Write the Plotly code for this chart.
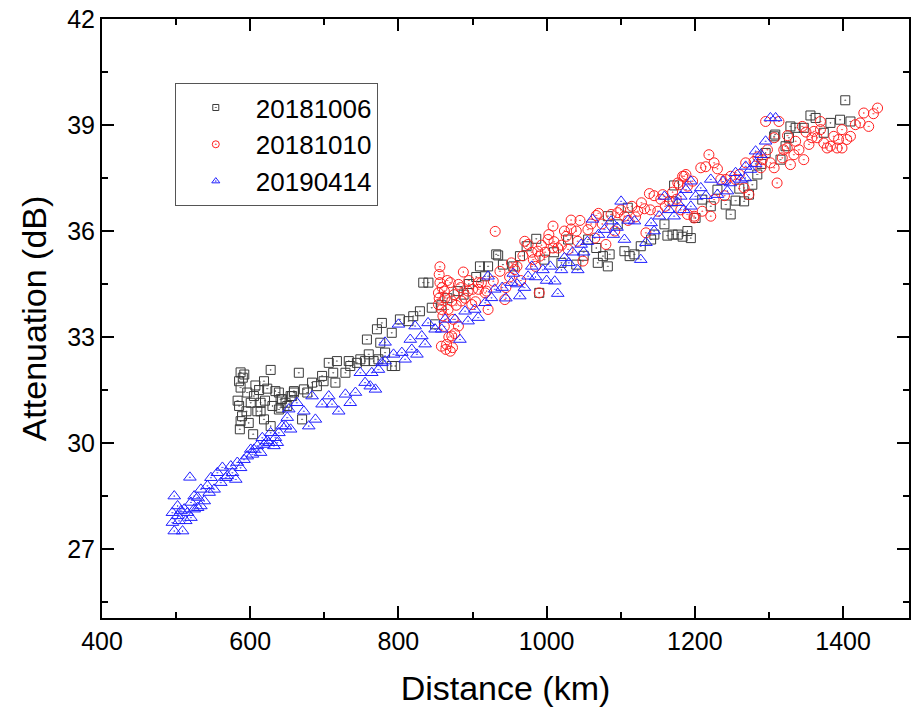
import plotly.graph_objects as go

# ---- 20181006 (black squares) ----
s1006_x = [587, 592, 585, 587, 596, 607, 618.6, 627.6, 623, 634, 605, 614, 600.7, 585, 589, 587, 598, 586, 604, 618.6,
           627.6, 614, 609.6, 643, 650, 641, 654.5, 659, 590, 583, 595, 620, 630, 612,
           638.7, 647.7, 656.6, 665.6, 672.4, 683.5, 697, 706, 717, 715, 728.5, 735, 748.6, 760, 757.5, 771, 775.5,
           777.7, 791, 795.7, 802, 813.6, 820, 829, 833.5, 840.5, 845, 849.5, 670, 641, 638.7, 659, 699, 744, 755,
           766.5, 773, 782, 791, 733, 712, 690, 677,
           858, 866, 880, 895, 905, 910, 921, 932, 916.7, 888,
           934.6, 941, 964, 973, 986, 997, 990, 1020, 1040, 1067, 1069, 1082.6, 1076, 1085, 1082.6, 1096, 1105, 1112,
           1118.5, 1109.5, 1127, 1141, 1145.4, 1159, 1163, 1170, 1177, 1183.5, 1190, 1194.6, 1172, 1170, 1029, 1056,
           955, 1010, 1050,
           1210, 1201, 1221.5, 1230.5, 1241.7, 1248.4, 1255, 1266.5, 1273, 1277.6, 1284.3, 1295.5, 1307, 1308.5,
           1322.4, 1327, 1329, 1336, 1347, 1356, 1363, 1374, 1383, 1396, 1403, 1410, 1315.6, 1290, 1260]
s1006_y = [32.0, 31.94, 31.75, 31.57, 31.43, 31.63, 31.75, 32.07, 31.54, 31.47, 31.33, 31.14, 31.14, 31.05, 30.76, 30.62,
           30.57, 30.39, 30.25, 30.67, 30.48, 30.9, 30.9, 31.24, 31.05, 31.0, 31.33, 31.43, 31.85, 31.2, 30.9, 31.2,
           31.05, 31.5,
           31.43, 31.14, 31.33, 31.99, 31.52, 31.71, 31.9, 32.27, 32.32, 31.71, 31.99, 32.18, 32.37, 32.51, 32.93,
           33.22, 32.84, 33.4, 33.12, 32.18, 33.5, 33.45, 33.59, 33.73, 34.54, 34.54, 33.83, 33.36, 30.67, 31.24,
           30.95, 31.47, 31.75, 32.27, 32.32, 32.32, 32.37, 32.56, 32.18, 32.32, 31.99, 31.61, 31.43,
           33.9, 34.1, 34.3, 34.5, 34.7, 35.0, 35.0, 35.34, 34.72, 34.2,
           35.31, 35.05, 35.29, 35.57, 35.78, 35.19, 34.25, 35.1, 35.05, 35.52, 35.1, 35.0, 35.29, 35.34, 36.42,
           36.19, 35.43, 35.29, 35.34, 36.66, 35.57, 35.76, 35.9, 36.19, 35.87, 35.9, 35.9, 35.84, 36.0, 35.8, 37.29,
           36.84, 35.76, 35.76, 35.0, 35.4, 35.3,
           36.89, 36.37, 36.7, 37.17, 36.75, 36.47, 36.86, 36.84, 37.03, 37.31, 37.6, 38.21, 38.68, 38.73,
           38.4, 38.64, 38.96, 38.92, 38.92, 39.27, 39.2, 38.78, 39.06, 39.15, 39.7, 39.1, 38.02, 37.9, 37.2]

# ---- 20181010 (red circles) ----
s1010_x = [855, 856, 856, 887.6, 870, 881, 894, 854, 863, 872, 854, 858.4, 867, 885, 899, 908, 917, 881, 872, 858,
           865, 870, 874, 908, 930.6, 862, 866, 875, 878, 884, 890, 895, 900, 904, 860, 862, 868, 876, 864, 873,
           855, 859,
           912, 919, 921, 928, 937, 943.6, 952.5, 957, 970.5, 975, 982, 988, 990.7, 990, 1002, 1008.6, 1008.6, 1015,
           1026.5, 1029, 1033, 1033, 1042, 1049, 1055.7, 1067, 1080, 1087, 1096, 1105, 1123, 1132, 1138.7, 1134,
           1150, 1154, 1156.6, 1165.6, 1177, 1179, 1183.5, 1188, 1199,
           945, 950, 960, 965, 968, 980, 985, 993, 998, 1003, 1010, 1020, 1024, 1040, 1045, 1060, 1065, 1070, 1075,
           1092, 1100, 1110, 1115, 1120, 1128, 1140, 1145, 1160, 1170, 1175,
           1185.7, 1190, 1197, 1181, 1190, 1199, 1210, 1221.5, 1226, 1208, 1214.7, 1219, 1226, 1230.5, 1235,
           1241.7, 1248.4, 1255, 1266.5, 1273, 1268.6, 1280, 1289, 1291, 1302, 1307, 1307, 1295.5, 1313.5, 1311,
           1318, 1320, 1324.7, 1329, 1333.7, 1336, 1340.5, 1345, 1347, 1354, 1358, 1360.6, 1365, 1369.5, 1369.5,
           1374, 1378.5, 1383, 1387.5, 1392, 1394, 1398.6, 1398.6, 1405, 1410, 1416.6, 1423, 1428, 1434.6, 1441,
           1446.6, 1240, 1260, 1285, 1298, 1325, 1350]
s1010_y = [34.77, 34.99, 34.54, 34.84, 34.54, 34.49, 34.3, 34.25, 34.11, 34.02, 33.92, 33.78, 33.78, 34.02, 33.92,
           34.35, 34.25, 33.31, 33.03, 32.74, 32.79, 32.6, 33.5, 34.54, 35.99, 34.3, 34.6, 34.2, 33.9, 34.4, 34.1,
           34.6, 34.35, 34.0, 33.6, 33.3, 33.0, 33.1, 32.65, 32.7, 34.1, 34.4,
           34.54, 34.3, 33.78, 34.58, 34.86, 34.06, 35.1, 34.91, 35.71, 35.62, 35.19, 35.43, 35.29, 34.25, 35.76,
           36.14, 35.52, 35.52, 35.85, 35.48, 36.31, 36.06, 35.71, 35.15, 36.04, 36.44, 35.62, 36.47, 36.52, 36.42,
           36.56, 36.63, 37.06, 35.95, 36.56, 36.9, 37.03, 36.84, 37.36, 37.31, 37.55, 37.6, 36.37,
           34.4, 34.7, 35.0, 34.6, 35.3, 35.4, 35.0, 35.6, 35.4, 35.9, 35.7, 35.6, 36.0, 36.0, 36.3, 36.2, 35.8,
           36.5, 36.2, 36.0, 36.6, 36.3, 36.7, 36.4, 36.8, 36.6, 37.0, 36.7, 37.1, 36.9,
           37.55, 37.27, 37.41, 36.6, 36.47, 36.42, 36.56, 36.42, 36.89, 37.79, 37.82, 38.16, 37.93, 37.76, 37.46,
           37.46, 37.55, 37.46, 37.22, 37.03, 37.93, 37.97, 37.79, 38.02, 37.93, 37.79, 38.64, 39.1, 39.1, 37.36,
           38.07, 38.3, 38.35, 37.88, 38.16, 38.54, 38.3, 38.96, 38.02, 38.45, 38.64, 38.82, 38.64, 39.1, 38.87,
           38.49, 38.35, 38.4, 38.68, 38.35, 38.59, 38.35, 38.87, 38.59, 38.68, 39.01, 39.06, 39.34, 38.96, 39.32,
           39.48, 37.0, 37.6, 38.1, 38.3, 38.7, 38.8]

# ---- 20190414 (blue triangles) ----
s0414_x = [495, 495, 497.5, 497.5, 502, 502, 504, 506.5, 508.7, 511, 513, 515.4, 518.6, 520, 520, 524.4, 524.4, 529,
           529, 533.4, 533.4, 538, 542.3, 544.6, 547, 551.3, 555.7, 560.3, 562.5, 567, 569, 573.8, 576, 580.5,
           582.6, 587, 591.6, 596, 600.7, 603, 605, 609.6, 614, 616.3, 618.6, 623, 625, 627.6, 632, 634, 636.5,
           638.7, 643, 647.7, 650, 652, 654.5, 663, 672.4, 679, 683.5, 688, 697, 706, 710.4, 719.4, 728.5, 735, 742,
           748.6, 755, 762, 764, 769, 773, 777.7, 782, 782, 793.4, 800, 804.6, 809, 816, 818, 822.5, 825, 831.5,
           836, 840, 849.5, 858.4, 863, 876.4, 883, 890, 894, 903, 907.7, 917, 921, 925.6, 930, 952.5, 963.8, 975,
           1011, 1015, 1024, 1042, 1046.6, 1062, 1078, 1087, 1100.5, 1105, 1118.5, 1127, 1134, 1141, 1152, 1159,
           1172, 1177, 1188, 1194.6, 1194.6, 1181, 1208, 1221.5, 1201, 1230.5, 1244, 1248, 1255, 1262, 1268.6,
           1275, 1282, 1289, 1295.5, 1302, 1309,
           940, 945, 960, 985, 995, 1000, 1005, 1030, 1035, 1055, 1070, 1090, 1095, 1110, 1145, 1165, 1185, 1215,
           1238, 1268, 1282, 955, 970, 980, 1020, 1050]
s0414_y = [28.03, 27.75, 27.51, 28.5, 28.22, 27.94, 27.8, 28.08, 27.51, 28.13, 27.8, 28.03, 29.03, 28.32, 27.89,
           28.5, 28.13, 28.17, 28.46, 28.69, 28.22, 28.36, 28.79, 28.6, 29.02, 28.69, 29.16, 28.88, 29.31, 29.02,
           29.07, 29.35, 29.16, 28.97, 29.45, 29.3, 29.53, 29.63, 29.82, 29.68, 29.82, 29.92, 29.73, 30.15, 29.96,
           30.06, 30.01, 30.29, 29.92, 30.15, 30.01, 30.29, 30.48, 30.48, 30.72, 30.96, 30.39, 31.14, 30.9, 30.48,
           31.33, 30.67, 31.1, 31.33, 31.1, 30.9, 31.38, 31.14, 31.43, 31.99, 31.71, 31.61, 31.99, 31.52, 32.08,
           32.27, 32.32, 32.85, 32.51, 33.36, 32.56, 32.37, 32.93, 32.65, 33.31, 32.51, 33.03, 32.8, 33.4, 33.22,
           33.22, 33.5, 33.5, 32.93, 33.73, 33.45, 33.78, 33.55, 33.97, 34.72, 34.11, 34.35, 34.54, 34.16, 34.72,
           34.58, 34.23, 35.24, 34.9, 35.62, 36.33, 36.04, 36.28, 36.84, 35.76, 36.28, 35.19, 35.67, 36.23, 36.42,
           36.98, 36.42, 36.8, 37.17, 37.41, 36.7, 36.98, 37.22, 37.46, 36.98, 37.03, 37.13, 37.36, 37.65, 37.46,
           37.83, 37.74, 38.26, 38.16, 38.54, 39.2, 39.2,
           34.4, 34.1, 34.5, 34.7, 34.9, 34.6, 35.0, 35.1, 35.4, 35.7, 35.9, 35.9, 36.1, 36.3, 36.0, 36.6, 36.6,
           37.0, 37.4, 37.5, 37.9, 34.8, 34.4, 35.0, 34.9, 35.4]

series_names = ["20181006", "20181010", "20190414"]

FONT = "Arial, 'Liberation Sans', sans-serif"

fig = go.Figure()

styles = [
    (s1006_x, s1006_y, "square-open-dot", "#3a3a3a", 9, 6),
    (s1010_x, s1010_y, "circle-open-dot", "#ff2020", 10, 7),
    (s0414_x, s0414_y, "triangle-up-open-dot", "#2020ff", 11, 7),
]
for name, (xs, ys, sym, col, sz, lsz) in zip(series_names, styles):
    fig.add_trace(go.Scatter(x=xs, y=ys, mode="markers", name=name, showlegend=False,
                             marker=dict(symbol=sym, size=sz, color=col, line=dict(color=col, width=1))))
for name, (xs, ys, sym, col, sz, lsz) in zip(series_names, styles):
    fig.add_trace(go.Scatter(x=[None], y=[None], mode="markers", name=name, showlegend=True,
                             marker=dict(symbol=sym, size=lsz, color=col, line=dict(color=col, width=1))))

axis_common = dict(showline=True, linecolor="black", linewidth=2, mirror="ticks",
                   ticks="inside", ticklen=12, tickwidth=2, tickcolor="black",
                   showgrid=False, zeroline=False,
                   tickfont=dict(family=FONT, size=25, color="black"))

fig.update_xaxes(range=[400, 1489], tick0=400, dtick=200,
                 minor=dict(ticks="inside", ticklen=6, tickwidth=2, dtick=100, tick0=400, tickcolor="black"),
                 title=dict(text="Distance (km)", font=dict(family=FONT, size=34, color="black"), standoff=22),
                 **axis_common)
fig.update_yaxes(range=[25.05, 42], tick0=27, dtick=3,
                 minor=dict(ticks="inside", ticklen=6, tickwidth=2, dtick=1.5, tick0=27, tickcolor="black"),
                 title=dict(text="Attenuation (dB)", font=dict(family=FONT, size=34, color="black"), standoff=10),
                 **axis_common)

fig.update_layout(
    width=912, height=714,
    margin=dict(l=102, r=1, t=19, b=96),
    paper_bgcolor="white", plot_bgcolor="white",
    font=dict(family=FONT, color="black"),
    legend=dict(x=0.0902, y=0.893, xanchor="left", yanchor="top",
                bgcolor="white", bordercolor="#555555", borderwidth=1,
                font=dict(family=FONT, size=26, color="black"),
                itemwidth=70, tracegroupgap=0),
)

fig.write_html("out.html")
